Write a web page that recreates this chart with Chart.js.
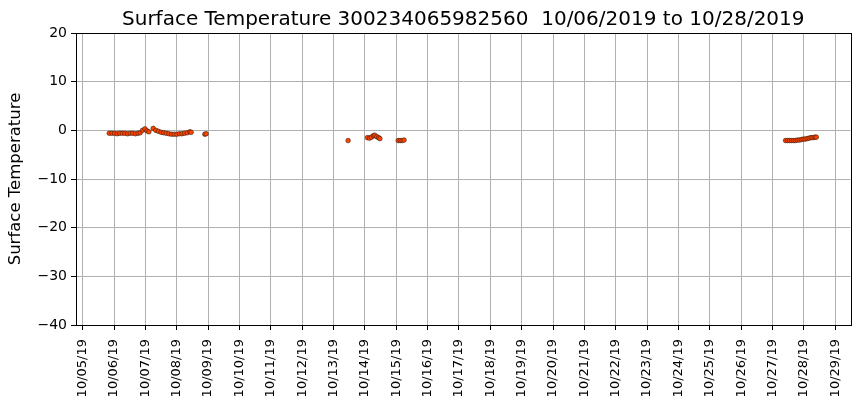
<!DOCTYPE html>
<html>
<head>
<meta charset="utf-8">
<script src="https://cdn.jsdelivr.net/npm/chart.js@4"></script>
<style>
  html, body { margin: 0; padding: 0; background: #fff; }
  #wrap { width: 860px; height: 408px; }
</style>
</head>
<body>
<div id="wrap"><canvas id="c" width="860" height="408"></canvas></div>
<script>
// Surface temperature scatter, one buoy. Times are UTC.

const TITLE = 'Surface Temperature 300234065982560  10/06/2019 to 10/28/2019';
const Y_LABEL = 'Surface Temperature';

const times = [
  '2019-10-05T20:20', '2019-10-05T22:20', '2019-10-06T00:20', '2019-10-06T02:20',
  '2019-10-06T04:20', '2019-10-06T06:20', '2019-10-06T08:20', '2019-10-06T10:20',
  '2019-10-06T12:20', '2019-10-06T14:20', '2019-10-06T16:20', '2019-10-06T18:20',
  '2019-10-06T20:00', '2019-10-06T21:50', '2019-10-06T23:40', '2019-10-07T01:10',
  '2019-10-07T02:40',
  '2019-10-07T06:00', '2019-10-07T08:00', '2019-10-07T10:00', '2019-10-07T12:00',
  '2019-10-07T14:00', '2019-10-07T16:00', '2019-10-07T18:00', '2019-10-07T20:00',
  '2019-10-07T22:00', '2019-10-08T00:00', '2019-10-08T02:00', '2019-10-08T04:00',
  '2019-10-08T06:00', '2019-10-08T08:00', '2019-10-08T10:00', '2019-10-08T11:00',
  '2019-10-08T21:30', '2019-10-08T22:30',
  '2019-10-13T11:10',
  '2019-10-14T02:00', '2019-10-14T03:30', '2019-10-14T05:00', '2019-10-14T06:30',
  '2019-10-14T07:30', '2019-10-14T09:00', '2019-10-14T10:30', '2019-10-14T11:30',
  '2019-10-15T01:30', '2019-10-15T03:00', '2019-10-15T04:30', '2019-10-15T06:00',
  '2019-10-27T10:00', '2019-10-27T11:30', '2019-10-27T13:00', '2019-10-27T14:30',
  '2019-10-27T16:00', '2019-10-27T17:30', '2019-10-27T19:00', '2019-10-27T20:30',
  '2019-10-27T22:00', '2019-10-27T23:30', '2019-10-28T01:00', '2019-10-28T02:30',
  '2019-10-28T04:00', '2019-10-28T05:30', '2019-10-28T07:00', '2019-10-28T08:30',
  '2019-10-28T09:30'
];

const temps = [
  -0.6, -0.6, -0.6, -0.7,
  -0.6, -0.6, -0.6, -0.7,
  -0.6, -0.6, -0.7, -0.6,
  -0.5, 0.0, 0.3, -0.1,
  -0.3,
  0.4, 0.0, -0.2, -0.4,
  -0.5, -0.6, -0.7, -0.8,
  -0.8, -0.8, -0.7, -0.7,
  -0.6, -0.5, -0.3, -0.4,
  -0.8, -0.7,
  -2.1,
  -1.5, -1.6, -1.4, -1.1,
  -1.0, -1.3, -1.5, -1.7,
  -2.1, -2.1, -2.1, -2.0,
  -2.1, -2.1, -2.1, -2.1,
  -2.1, -2.1, -2.0, -2.0,
  -1.9, -1.8, -1.8, -1.7,
  -1.6, -1.5, -1.5, -1.4,
  -1.4
];

// axis limits and ticks
const X_BASE = '2019-10-05T00:00';
const X_MIN = '2019-10-04T18:53';
const X_MAX = '2019-10-29T11:43';
const X_TICK_DAYS = 25;          // 10/05 .. 10/29
const Y_MIN = -40, Y_MAX = 20, Y_STEP = 10;

const DAY_MS = 86400000;
const baseMs = Date.parse(X_BASE + 'Z');
const toDays = s => (Date.parse(s + 'Z') - baseMs) / DAY_MS;

function fmtDay(d) {
  const dt = new Date(baseMs + Math.round(d) * DAY_MS);
  const mm = String(dt.getUTCMonth() + 1).padStart(2, '0');
  const dd = String(dt.getUTCDate()).padStart(2, '0');
  const yy = String(dt.getUTCFullYear()).slice(2);
  return mm + '/' + dd + '/' + yy;
}

const fmtY = v => (v < 0 ? '\u2212' + Math.abs(v) : String(v));

// top/right spines and a title centred over the plot area, matplotlib style
const frame = {
  id: 'frame',
  afterDatasetsDraw(chart) {
    const {ctx, chartArea: a} = chart;
    ctx.save();
    ctx.strokeStyle = '#000';
    ctx.lineWidth = 1;
    ctx.strokeRect(Math.round(a.left) + 0.5, Math.round(a.top) + 0.5,
                   Math.round(a.right - a.left), Math.round(a.bottom - a.top));
    ctx.fillStyle = '#000';
    ctx.font = "20px 'DejaVu Sans', sans-serif";
    ctx.textAlign = 'center';
    ctx.textBaseline = 'alphabetic';
    ctx.fillText(TITLE, (a.left + a.right) / 2, a.top - 8);
    ctx.restore();
  }
};

Chart.defaults.font.family = "'DejaVu Sans', sans-serif";
Chart.defaults.color = '#000';

new Chart(document.getElementById('c').getContext('2d'), {
  type: 'scatter',
  data: {
    datasets: [{
      data: times.map((t, i) => ({x: toDays(t), y: temps[i]})),
      backgroundColor: '#ff4500',
      borderColor: '#3a1a0a',
      borderWidth: 0.6,
      pointRadius: 2.3,
      pointHoverRadius: 2.3
    }]
  },
  options: {
    responsive: false,
    animation: false,
    devicePixelRatio: 1,
    layout: {padding: {top: 33, left: 0, right: 9, bottom: 0}},
    plugins: {
      legend: {display: false},
      tooltip: {enabled: false},
      title: {display: false}
    },
    scales: {
      x: {
        type: 'linear',
        min: toDays(X_MIN),
        max: toDays(X_MAX),
        grid: {color: '#b0b0b0', lineWidth: 1, tickColor: '#000', tickLength: 5},
        border: {color: '#000', width: 1},
        afterBuildTicks: axis => {
          axis.ticks = Array.from({length: X_TICK_DAYS}, (_, i) => ({value: i}));
        },
        ticks: {
          autoSkip: false,
          minRotation: 90,
          maxRotation: 90,
          padding: 9,
          font: {size: 13},
          callback: v => fmtDay(v)
        },
        afterFit: axis => { axis.height = 83; }
      },
      y: {
        min: Y_MIN,
        max: Y_MAX,
        grid: {color: '#b0b0b0', lineWidth: 1, tickColor: '#000', tickLength: 5},
        border: {color: '#000', width: 1},
        ticks: {stepSize: Y_STEP, padding: 4, font: {size: 14}, callback: v => fmtY(v)},
        title: {display: true, text: Y_LABEL, font: {size: 16.5}, padding: {top: 6, bottom: 0}},
        afterFit: axis => { axis.width = 76; }
      }
    }
  },
  plugins: [frame]
});
</script>
</body>
</html>
